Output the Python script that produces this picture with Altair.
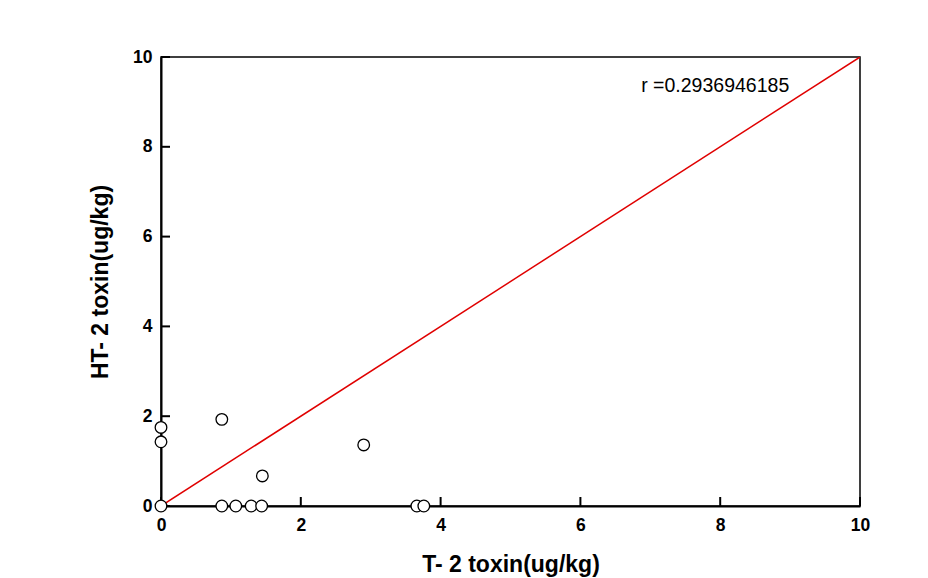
import altair as alt
import pandas as pd

t2 = [0, 0, 0, 0.87, 0.87, 1.07, 1.29, 1.44, 1.45, 2.90, 3.66, 3.76]
ht2 = [0, 1.43, 1.75, 1.93, 0, 0, 0, 0, 0.67, 1.36, 0, 0]
line_x = [0, 10]
line_y = [0, 10]
tick_vals = [0, 2, 4, 6, 8, 10]
r_label = "r =0.2936946185"

pts = pd.DataFrame({"x": t2, "y": ht2})
ln = pd.DataFrame({"x": line_x, "y": line_y})
tk = pd.DataFrame({"v": tick_vals})

xs = alt.Scale(domain=[0, 10], nice=False, zero=False)
ys = alt.Scale(domain=[0, 10], nice=False, zero=False)
font = "Liberation Sans"

xaxis = alt.Axis(values=tick_vals, format="d", ticks=False, grid=False, labelFont=font, labelFontWeight="bold",
                 labelFontSize=17.5, labelColor="black", labelPadding=10, labelFlush=False, labelOverlap=False,
                 domainColor="black", domainWidth=2,
                 title="T- 2 toxin(ug/kg)", titleFont=font, titleFontWeight="bold", titleFontSize=23,
                 titleColor="black", titlePadding=20)
yaxis = alt.Axis(values=tick_vals, format="d", ticks=False, grid=False, labelFont=font, labelFontWeight="bold",
                 labelFontSize=17.5, labelColor="black", labelPadding=9, labelFlush=False, labelOverlap=False,
                 domainColor="black", domainWidth=2,
                 title="HT- 2 toxin(ug/kg)", titleFont=font, titleFontWeight="bold", titleFontSize=23,
                 titleColor="black", titlePadding=20)

line = alt.Chart(ln).mark_line(color="#e00000", strokeWidth=1.5, clip=True).encode(
    x=alt.X("x:Q", scale=xs, axis=xaxis), y=alt.Y("y:Q", scale=ys, axis=yaxis))

points = alt.Chart(pts).mark_point(shape="circle", filled=False, color="black", fill="white",
                                   fillOpacity=1, strokeWidth=1.3, size=135, opacity=1).encode(
    x=alt.X("x:Q", scale=xs), y=alt.Y("y:Q", scale=ys))

yt = alt.Chart(tk).mark_rule(color="black", strokeWidth=2).encode(
    y=alt.Y("v:Q", scale=ys), x=alt.value(0), x2=alt.value(9))
xt = alt.Chart(tk).mark_rule(color="black", strokeWidth=2).encode(
    x=alt.X("v:Q", scale=xs), y=alt.value(449), y2=alt.value(440))

txt = alt.Chart(pd.DataFrame({"x": [6.87], "y": [9.36], "t": [r_label]})).mark_text(
    font=font, fontSize=19.5, align="left", baseline="middle", color="black").encode(
    x=alt.X("x:Q", scale=xs), y=alt.Y("y:Q", scale=ys), text="t:N")

chart = alt.layer(line, yt, xt, points, txt).properties(
    width=699, height=449,
    padding={"left": 161, "top": 57, "right": 68, "bottom": 72},
    autosize=alt.AutoSizeParams(type="none"),
    background="white",
).configure_view(stroke="black", strokeWidth=1.5)

chart.save("out.html", embed_options={"renderer": "svg", "actions": False})
